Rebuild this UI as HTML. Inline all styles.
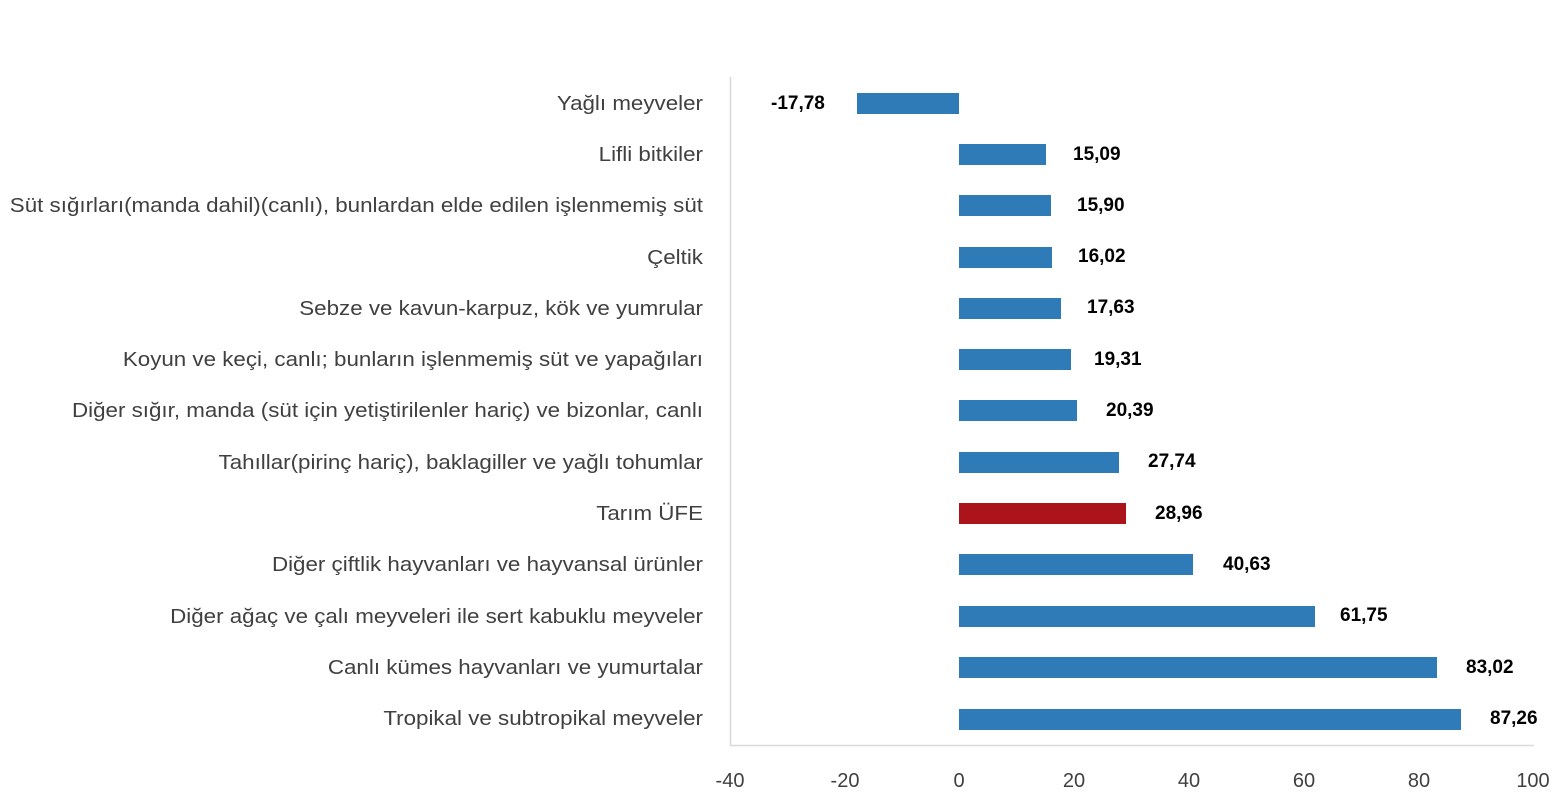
<!DOCTYPE html>
<html><head><meta charset="utf-8"><style>
html,body{margin:0;padding:0;background:#fff;}
svg{display:block;}
.c{font-family:"Liberation Sans","DejaVu Sans",sans-serif;font-size:20px;fill:#404040;text-anchor:end;}
.v{font-family:"Liberation Sans",sans-serif;font-size:19px;font-weight:bold;fill:#000;}
.t{font-family:"Liberation Sans",sans-serif;font-size:20px;fill:#404040;text-anchor:middle;}
</style></head><body>
<svg width="1557" height="800" viewBox="0 0 1557 800">
<line x1="730.5" y1="77" x2="730.5" y2="745" stroke="#d9d9d9" stroke-width="1.5"/>
<line x1="730" y1="745.5" x2="1534" y2="745.5" stroke="#d9d9d9" stroke-width="1.5"/>
<g>
<text class="t" x="730" y="787">-40</text>
<text class="t" x="845" y="787">-20</text>
<text class="t" x="959" y="787">0</text>
<text class="t" x="1074" y="787">20</text>
<text class="t" x="1189" y="787">40</text>
<text class="t" x="1304" y="787">60</text>
<text class="t" x="1419" y="787">80</text>
<text class="t" x="1533" y="787">100</text>
</g>
<g transform="translate(703,0) scale(1.118,1) translate(-703,0)">
<text class="c" x="703" y="110">Yağlı meyveler</text>
<text class="c" x="703" y="161">Lifli bitkiler</text>
<text class="c" x="703" y="212">Süt sığırları(manda dahil)(canlı), bunlardan elde edilen işlenmemiş süt</text>
<text class="c" x="703" y="264">Çeltik</text>
<text class="c" x="703" y="315">Sebze ve kavun-karpuz, kök ve yumrular</text>
<text class="c" x="703" y="366">Koyun ve keçi, canlı; bunların işlenmemiş süt ve yapağıları</text>
<text class="c" x="703" y="417">Diğer sığır, manda (süt için yetiştirilenler hariç) ve bizonlar, canlı</text>
<text class="c" x="703" y="469">Tahıllar(pirinç hariç), baklagiller ve yağlı tohumlar</text>
<text class="c" x="703" y="520">Tarım ÜFE</text>
<text class="c" x="703" y="571">Diğer çiftlik hayvanları ve hayvansal ürünler</text>
<text class="c" x="703" y="623">Diğer ağaç ve çalı meyveleri ile sert kabuklu meyveler</text>
<text class="c" x="703" y="674">Canlı kümes hayvanları ve yumurtalar</text>
<text class="c" x="703" y="725">Tropikal ve subtropikal meyveler</text>
</g>
<g>
<rect x="857" y="93" width="102" height="21" fill="#2e7bb8"/><text class="v" x="771" y="109">-17,78</text>
<rect x="959" y="144" width="87" height="21" fill="#2e7bb8"/><text class="v" x="1073" y="160">15,09</text>
<rect x="959" y="195" width="92" height="21" fill="#2e7bb8"/><text class="v" x="1077" y="211">15,90</text>
<rect x="959" y="247" width="93" height="21" fill="#2e7bb8"/><text class="v" x="1078" y="262">16,02</text>
<rect x="959" y="298" width="102" height="21" fill="#2e7bb8"/><text class="v" x="1087" y="313">17,63</text>
<rect x="959" y="349" width="112" height="21" fill="#2e7bb8"/><text class="v" x="1094" y="365">19,31</text>
<rect x="959" y="400" width="118" height="21" fill="#2e7bb8"/><text class="v" x="1106" y="416">20,39</text>
<rect x="959" y="452" width="160" height="21" fill="#2e7bb8"/><text class="v" x="1148" y="467">27,74</text>
<rect x="959" y="503" width="167" height="21" fill="#ab141b"/><text class="v" x="1155" y="519">28,96</text>
<rect x="959" y="554" width="234" height="21" fill="#2e7bb8"/><text class="v" x="1223" y="570">40,63</text>
<rect x="959" y="606" width="356" height="21" fill="#2e7bb8"/><text class="v" x="1340" y="621">61,75</text>
<rect x="959" y="657" width="478" height="21" fill="#2e7bb8"/><text class="v" x="1466" y="673">83,02</text>
<rect x="959" y="709" width="502" height="21" fill="#2e7bb8"/><text class="v" x="1490" y="724">87,26</text>
</g>
</svg>
</body></html>
